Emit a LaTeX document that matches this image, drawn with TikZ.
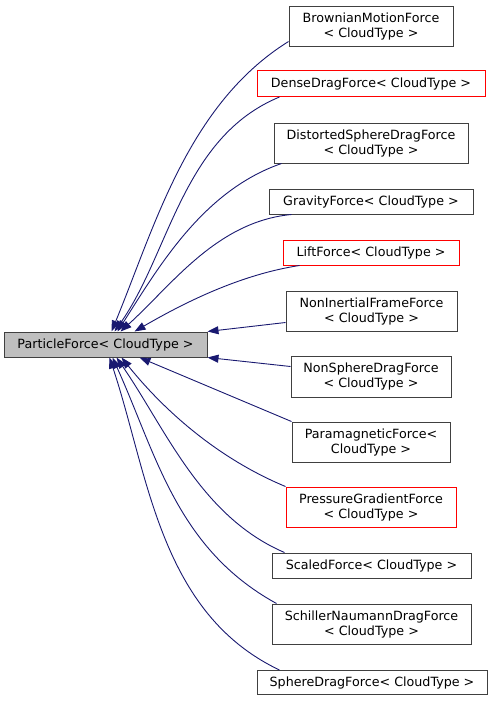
\documentclass[tikz,border=0pt]{standalone}
\usepackage{fontspec}
\setmainfont{DejaVu Sans}
\usepackage{tikz}
\usetikzlibrary{arrows.meta}

\definecolor{EdgeBlue}{HTML}{191970}
\definecolor{BoxGray}{HTML}{BFBFBF}
\definecolor{BorderGray}{HTML}{404040}

\begin{document}
\begin{tikzpicture}[x=1pt, y=-1pt,
	every node/.style={font=\fontsize{12.7}{15}\selectfont, align=center, inner sep=0pt},
	forcebox/.style={draw=BorderGray, line width=1pt},
	redforce/.style={draw=red, line width=1pt},
	baseforce/.style={draw=BorderGray, fill=BoxGray, line width=1pt},
	inherit/.style={EdgeBlue, line width=0.9pt, -{Triangle[length=11pt,width=8pt]}}]
	
	\useasboundingbox (0,0) rectangle (492,702);
	
	% ---------------------
	% Base class
	\node[baseforce, minimum width=203pt, minimum height=25pt] (ParticleForce) at (105.5,344.5) {ParticleForce< CloudType >};
	
	% ---------------------
	% Derived classes
	\node[forcebox, minimum width=164pt, minimum height=40pt] (BrownianMotion) at (371,26) {BrownianMotionForce\\< CloudType >};
	\node[redforce, minimum width=228pt, minimum height=26pt] (DenseDrag) at (371,83.5) {DenseDragForce< CloudType >};
	\node[forcebox, minimum width=194pt, minimum height=40pt] (DistortedSphereDrag) at (371,143) {DistortedSphereDragForce\\< CloudType >};
	\node[forcebox, minimum width=204pt, minimum height=25pt] (Gravity) at (371,201.5) {GravityForce< CloudType >};
	\node[redforce, minimum width=176pt, minimum height=25pt] (Lift) at (371,252.5) {LiftForce< CloudType >};
	\node[forcebox, minimum width=171pt, minimum height=40pt] (NonInertialFrame) at (371.5,311) {NonInertialFrameForce\\< CloudType >};
	\node[forcebox, minimum width=160pt, minimum height=41pt] (NonSphereDrag) at (371,376.5) {NonSphereDragForce\\< CloudType >};
	\node[forcebox, minimum width=158pt, minimum height=40pt] (Paramagnetic) at (371,442) {ParamagneticForce<\\CloudType >};
	\node[redforce, minimum width=170pt, minimum height=40pt] (PressureGradient) at (371,507) {PressureGradientForce\\< CloudType >};
	\node[forcebox, minimum width=199pt, minimum height=25pt] (Scaled) at (371.5,565.5) {ScaledForce< CloudType >};
	\node[forcebox, minimum width=199pt, minimum height=40pt] (SchillerNaumannDrag) at (371.5,624) {SchillerNaumannDragForce\\< CloudType >};
	\node[forcebox, minimum width=230pt, minimum height=24pt] (SphereDrag) at (372,682.5) {SphereDragForce< CloudType >};
	
	% ---------------------
	% Inheritance edges, upper half
	\draw[inherit] ([yshift=5pt]BrownianMotion.south west) .. controls +(-101,63) and +(43,-104) .. ([xshift=108pt]ParticleForce.north west);
	\draw[inherit] ([xshift=23pt]DenseDrag.south west) .. controls +(-97,40) and +(55,-78) .. ([xshift=111pt]ParticleForce.north west);
	\draw[inherit] ([xshift=8pt]DistortedSphereDrag.south west) .. controls +(-78,27) and +(42,-66) .. ([xshift=114pt]ParticleForce.north west);
	\draw[inherit] ([xshift=23pt]Gravity.south west) .. controls +(-75,7) and +(51,-46) .. ([xshift=117pt]ParticleForce.north west);
	\draw[inherit] ([xshift=17pt]Lift.south west) .. controls +(-59,9) and +(50,-29) .. ([xshift=131pt]ParticleForce.north west);
	
	% ---------------------
	% Inheritance edges, straight ones
	\draw[inherit] ([yshift=9pt]NonInertialFrame.south west) -- (ParticleForce.north east);
	\draw[inherit] ([yshift=-11pt]NonSphereDrag.north west) -- (ParticleForce.south east);
	\draw[inherit] (Paramagnetic.north west) -- ([xshift=136pt]ParticleForce.south west);
	
	% ---------------------
	% Inheritance edges, lower half
	\draw[inherit] (PressureGradient.north west) .. controls +(-65,-27) and +(45,56) .. ([xshift=118pt]ParticleForce.south west);
	\draw[inherit] ([xshift=13pt]Scaled.north west) .. controls +(-84,-36) and +(49,71) .. ([xshift=113pt]ParticleForce.south west);
	\draw[inherit] ([xshift=5pt]SchillerNaumannDrag.north west) .. controls +(-100,-55) and +(44,97) .. ([xshift=109pt]ParticleForce.south west);
	\draw[inherit] ([xshift=23pt]SphereDrag.north west) .. controls +(-120,-57) and +(39,117) .. ([xshift=106pt]ParticleForce.south west);
	
\end{tikzpicture}
\end{document}
